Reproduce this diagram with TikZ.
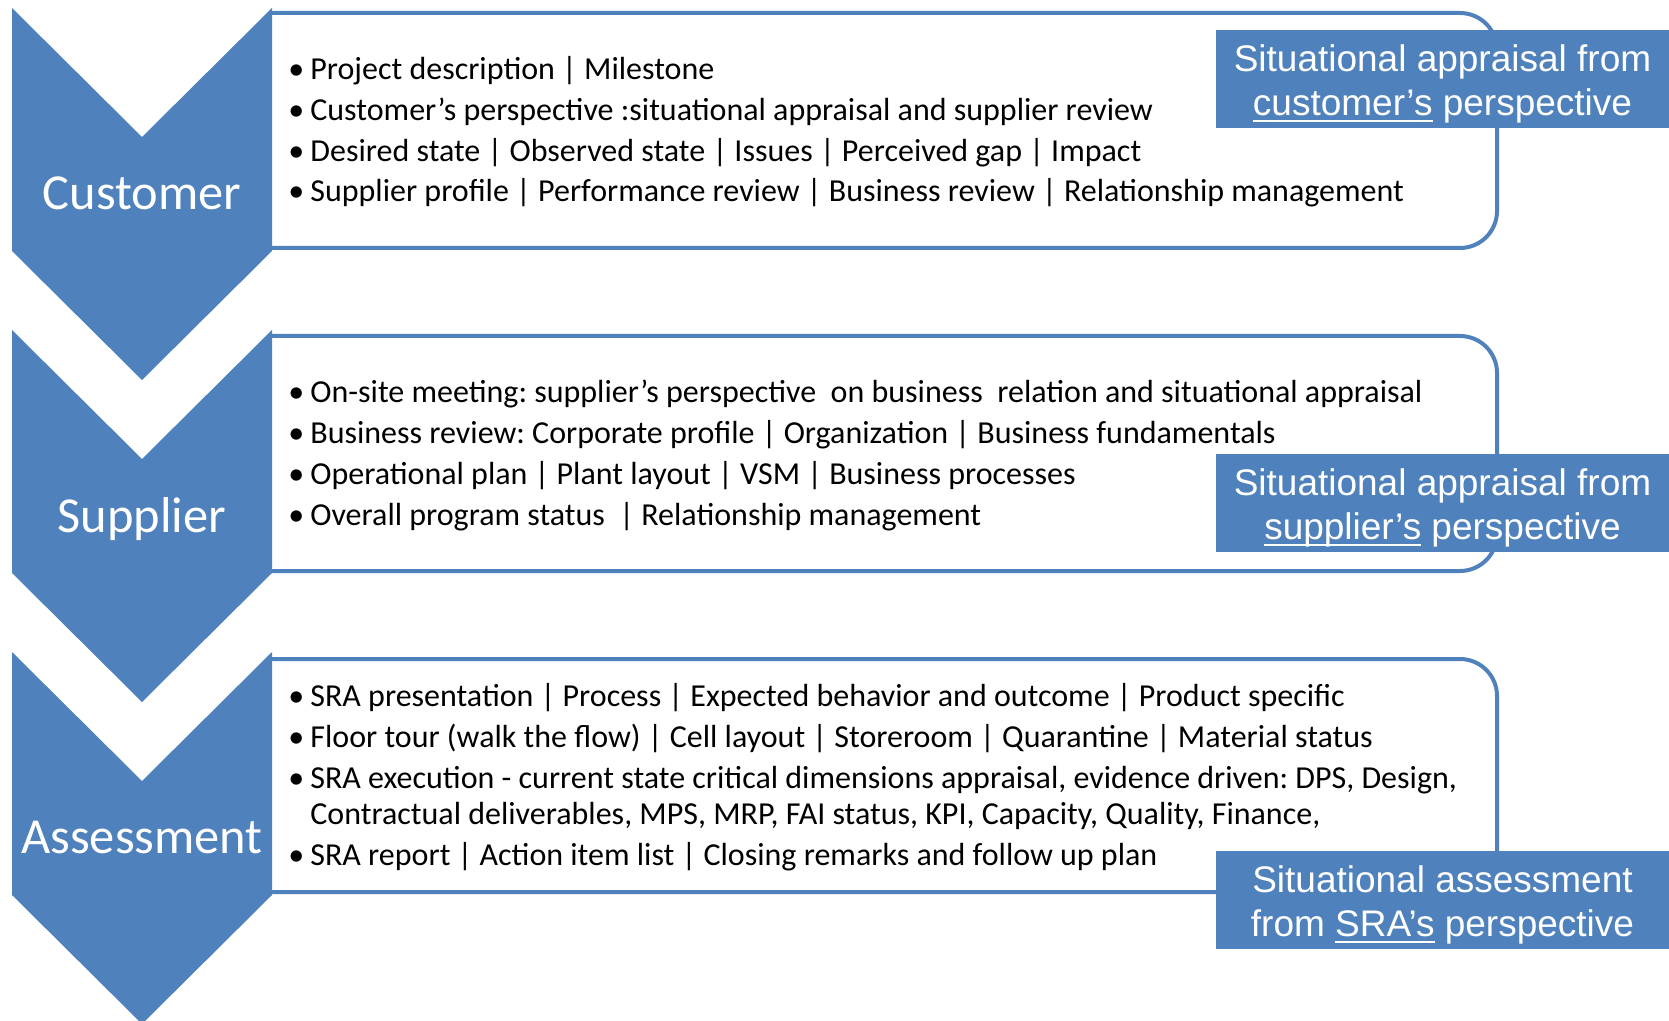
\documentclass[tikz,border=0pt]{standalone}
\usepackage{fontspec}
\setmainfont{Carlito}
\newfontfamily\arialfont{Liberation Sans}
\definecolor{chevblue}{HTML}{4F81BD}
\frenchspacing
\newcommand\bul{\makebox[11pt][l]{\textbullet}}
\newcommand\undl[1]{\setbox0\hbox{#1}\rlap{\rule[-3.4pt]{\wd0}{1.15pt}}\box0\relax}

\begin{document}
\begin{tikzpicture}[x=0.5pt,y=-0.5pt]

    \tikzset{chevron/.style={fill=chevblue},
             boxline/.style={draw=chevblue,line width=2pt,rounded corners=18.5pt},
             steplabel/.style={text=white,anchor=base,inner sep=0pt,font=\fontsize{25.2}{30}\selectfont},
             itemline/.style={anchor=base west,inner sep=0pt,font=\fontsize{16}{19}\selectfont},
             callout/.style={fill=chevblue,text=white,inner sep=0pt,minimum width=226.5pt,
                             minimum height=49pt,align=center,font=\arialfont\fontsize{18.5}{22}\selectfont}}

    \useasboundingbox (0,0) rectangle (1669,1021);

    % boxes behind the chevrons
    \draw[boxline] (271,13) -- (1497,13) -- (1497,248) -- (271,248);
    \draw[boxline] (271,336) -- (1497,336) -- (1497,571) -- (271,571);
    \draw[boxline] (271,659) -- (1497,659) -- (1497,892) -- (271,892);

    \fill[chevron] (12,8) -- (142,137) -- (272,8) -- (272,251) -- (142,380) -- (12,251) -- cycle;
    \fill[chevron] (12,330) -- (142,459) -- (272,330) -- (272,573) -- (142,702) -- (12,573) -- cycle;
    \fill[chevron] (12,652) -- (142,781) -- (272,652) -- (272,895) -- (142,1024) -- (12,895) -- cycle;

    \node[steplabel] (cust) at (142,210) {Customer};
    \node[steplabel] (supp) at (142,532) {Supplier};
    \node[steplabel] (assess) at (142,853) {Assessment};

    \node[itemline] (c1) at (288,80) {\bul Project description | Milestone};
    \node[itemline] (c2) at (288,121) {\bul Customer’s perspective :situational appraisal and supplier review};
    \node[itemline] (c3) at (288,162) {\bul Desired state | Observed state | Issues | Perceived gap | Impact};
    \node[itemline] (c4) at (288,202) {\bul Supplier profile | Performance review | Business review | Relationship management};

    \node[itemline] (s1) at (288,402) {\bul On-site meeting: supplier’s perspective\ \ on business\ \ relation and situational appraisal};
    \node[itemline] (s2) at (288,443) {\bul Business review: Corporate profile | Organization | Business fundamentals};
    \node[itemline] (s3) at (288,484) {\bul Operational plan | Plant layout | VSM | Business processes};
    \node[itemline] (s4) at (288,525) {\bul Overall program status\ \ | Relationship management};

    \node[itemline] (a1) at (288,706) {\bul SRA presentation | Process | Expected behavior and outcome | Product specific};
    \node[itemline] (a2) at (288,747) {\bul Floor tour (walk the flow) | Cell layout | Storeroom | Quarantine | Material status};
    \node[itemline] (a3) at (288,788) {\bul SRA execution - current state critical dimensions appraisal, evidence driven: DPS, Design,};
    \node[itemline] (a4) at (288,824) {\hspace*{11pt}Contractual deliverables, MPS, MRP, FAI status, KPI, Capacity, Quality, Finance,};
    \node[itemline] (a5) at (288,865) {\bul SRA report | Action item list | Closing remarks and follow up plan};

    % callouts on the right
    \node[callout] (viewC) at (1442.5,79) {\rule{0pt}{18pt}Situational appraisal from\\\undl{customer’s} perspective};
    \node[callout] (viewS) at (1442.5,503) {\rule{0pt}{18pt}Situational appraisal from\\\undl{supplier’s} perspective};
    \node[callout] (viewA) at (1442.5,900) {\rule{0pt}{18pt}Situational assessment\\from \undl{SRA’s} perspective};

\end{tikzpicture}
\end{document}
